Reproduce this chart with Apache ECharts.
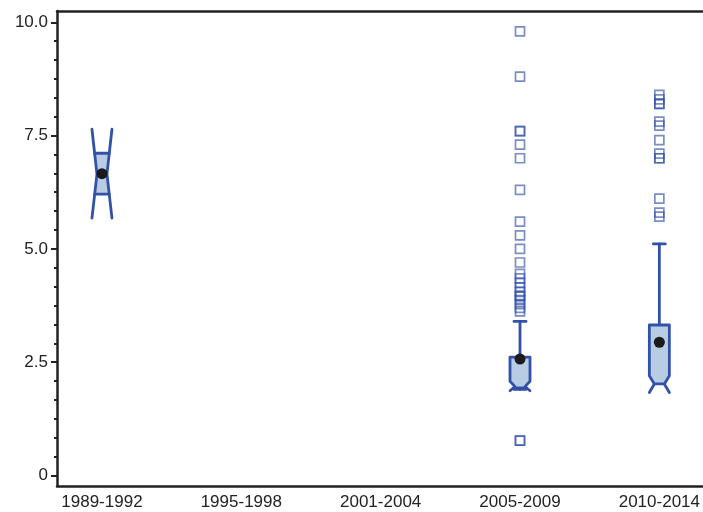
<!DOCTYPE html>
<html>
<head>
<meta charset="utf-8">
<script src="https://cdn.jsdelivr.net/npm/echarts@6/dist/echarts.min.js"></script>
<style>html,body{margin:0;padding:0;background:#fff}#c{width:703px;height:512px}</style>
</head>
<body>
<div id="c"></div>
<script>
// ---- data ----
const categories = ['1989-1992', '1995-1998', '2001-2004', '2005-2009', '2010-2014'];
const groupIndex   = [1, 4, 5];          // which categories have a box (1-based)
const lowWhisker   = [6.21, 1.90, 2.02];
const q1           = [6.21, 1.93, 2.02];
const median       = [6.65, 1.96, 2.02];
const q3           = [7.11, 2.61, 3.32];
const highWhisker  = [7.11, 3.40, 5.11];
const notchLow     = [5.68, 1.87, 1.83];
const notchHigh    = [7.64, 2.08, 2.20];
const means        = [6.66, 2.57, 2.94];
const outliers2005 = [9.80, 8.80, 7.60, 7.60, 7.30, 7.00, 6.30, 5.60, 5.30, 5.00, 4.70, 4.45, 4.35, 4.25, 4.15, 4.05, 3.97, 3.95, 3.87, 3.78, 3.70, 3.62, 0.77, 0.77];
const outliers2010 = [8.40, 8.30, 8.20, 8.20, 7.81, 7.72, 7.40, 7.10, 7.00, 7.00, 6.11, 5.80, 5.71];
const yTickValues  = [0, 2.5, 5, 7.5, 10];
const xTickValues  = [1, 2, 3, 4, 5];

// ---- styles ----
const BLUE = '#3252a8';
const FILL = '#b8cde4';
const TEXT = '#222';
const FONT = "'Liberation Sans',Arial,sans-serif";

const minorValues = [];
for (let i = 0; i < yTickValues.length - 1; i++) {
  const a = yTickValues[i], b = yTickValues[i + 1];
  for (let k = 1; k < 6; k++) minorValues.push(a + (b - a) * k / 6);
}

const boxData = groupIndex.map((g, i) => [g, lowWhisker[i], q1[i], median[i], q3[i], highWhisker[i], notchLow[i], notchHigh[i]]);
const meanData = groupIndex.map((g, i) => [g, means[i]]);
const outlierData = outliers2005.map(v => [4, v]).concat(outliers2010.map(v => [5, v]));

function renderBox(params, api) {
  const x = api.value(0);
  const lw = api.value(1), lq = api.value(2), md = api.value(3), uq = api.value(4), hw = api.value(5), nl = api.value(6), nh = api.value(7);
  const cx = api.coord([x, md])[0];
  const Y = v => api.coord([x, v])[1];
  const FULL = 10, NARROW = 5, CAP = 6;
  const hwid = v => {
    if (v >= nh || v <= nl) return FULL;
    if (v >= md) return NARROW + (FULL - NARROW) * (v - md) / (nh - md);
    return NARROW + (FULL - NARROW) * (md - v) / (md - nl);
  };
  const ys = [lq, uq];
  [nl, md, nh].forEach(v => { if (v > lq && v < uq) ys.push(v); });
  ys.sort((a, b) => a - b);
  const pts = [];
  ys.forEach(v => pts.push([cx + hwid(v), Y(v)]));
  ys.slice().reverse().forEach(v => pts.push([cx - hwid(v), Y(v)]));
  const LW = 2.8;
  const lineStyle = { stroke: BLUE, lineWidth: LW, fill: null, lineJoin: 'round', lineCap: 'round' };
  const children = [];
  if (hw > uq) {
    children.push({ type: 'line', shape: { x1: cx, y1: Y(uq), x2: cx, y2: Y(hw) }, style: lineStyle });
    children.push({ type: 'line', shape: { x1: cx - CAP, y1: Y(hw), x2: cx + CAP, y2: Y(hw) }, style: lineStyle });
  }
  if (lw < lq) {
    children.push({ type: 'line', shape: { x1: cx, y1: Y(lq), x2: cx, y2: Y(lw) }, style: lineStyle });
    children.push({ type: 'line', shape: { x1: cx - CAP, y1: Y(lw), x2: cx + CAP, y2: Y(lw) }, style: lineStyle });
  }
  children.push({ type: 'polygon', shape: { points: pts }, style: { fill: FILL, stroke: BLUE, lineWidth: LW, lineJoin: 'round' } });
  if (nh > uq) {
    [1, -1].forEach(s => children.push({ type: 'line', shape: { x1: cx + s * hwid(uq), y1: Y(uq), x2: cx + s * FULL, y2: Y(nh) }, style: lineStyle }));
  }
  if (nl < lq) {
    [1, -1].forEach(s => children.push({ type: 'line', shape: { x1: cx + s * hwid(lq), y1: Y(lq), x2: cx + s * FULL, y2: Y(nl) }, style: lineStyle }));
  }
  return { type: 'group', children };
}

const XMIN = 0.6774, XMAX = 5.308, YMIN = -0.232, YMAX = 10.249;

const chart = echarts.init(document.getElementById('c'), null, { renderer: 'canvas' });
chart.setOption({
  animation: false,
  backgroundColor: '#fff',
  grid: { left: 57, right: 0, top: 11, bottom: 26, containLabel: false },
  xAxis: [{
    type: 'value', min: XMIN, max: XMAX, position: 'bottom',
    axisLine: { show: true, onZero: false, lineStyle: { color: TEXT, width: 2.5 } },
    axisTick: { show: false },
    splitLine: { show: false },
    axisLabel: { customValues: xTickValues, formatter: v => categories[Math.round(v) - 1], color: TEXT, fontSize: 17, fontFamily: FONT, margin: 8 }
  }, {
    type: 'value', min: XMIN, max: XMAX, position: 'top',
    axisLine: { show: true, onZero: false, lineStyle: { color: TEXT, width: 2.5 } },
    axisTick: { show: false }, axisLabel: { show: false }, splitLine: { show: false }
  }],
  yAxis: [{
    type: 'value', min: YMIN, max: YMAX, position: 'left',
    axisLine: { show: true, onZero: false, lineStyle: { color: TEXT, width: 2.5 } },
    axisTick: { show: true, customValues: yTickValues, length: 6, lineStyle: { color: TEXT, width: 2 } },
    splitLine: { show: false },
    axisLabel: { customValues: yTickValues, formatter: v => (v === 0 ? '0' : v.toFixed(1)), color: TEXT, fontSize: 17, fontFamily: FONT, margin: 9 }
  }, {
    type: 'value', min: YMIN, max: YMAX, position: 'left', offset: 0,
    axisLine: { show: false, onZero: false },
    axisTick: { show: true, customValues: minorValues, length: 3, lineStyle: { color: TEXT, width: 2 } },
    axisLabel: { show: false }, splitLine: { show: false }
  }],
  series: [{
    type: 'custom', xAxisIndex: 0, yAxisIndex: 0,
    renderItem: renderBox,
    encode: { x: 0, y: [1, 2, 3, 4, 5, 6, 7] },
    data: boxData, z: 2
  }, {
    type: 'scatter', xAxisIndex: 0, yAxisIndex: 0,
    symbol: 'rect', symbolSize: 9,
    itemStyle: { color: 'rgba(0,0,0,0)', borderColor: 'rgba(50,82,168,0.65)', borderWidth: 1.7, opacity: 1 },
    data: outlierData, z: 3
  }, {
    type: 'scatter', xAxisIndex: 0, yAxisIndex: 0,
    symbol: 'circle', symbolSize: 11,
    itemStyle: { color: '#1b1b1b', opacity: 1 },
    data: meanData, z: 4
  }]
});
</script>
</body>
</html>
